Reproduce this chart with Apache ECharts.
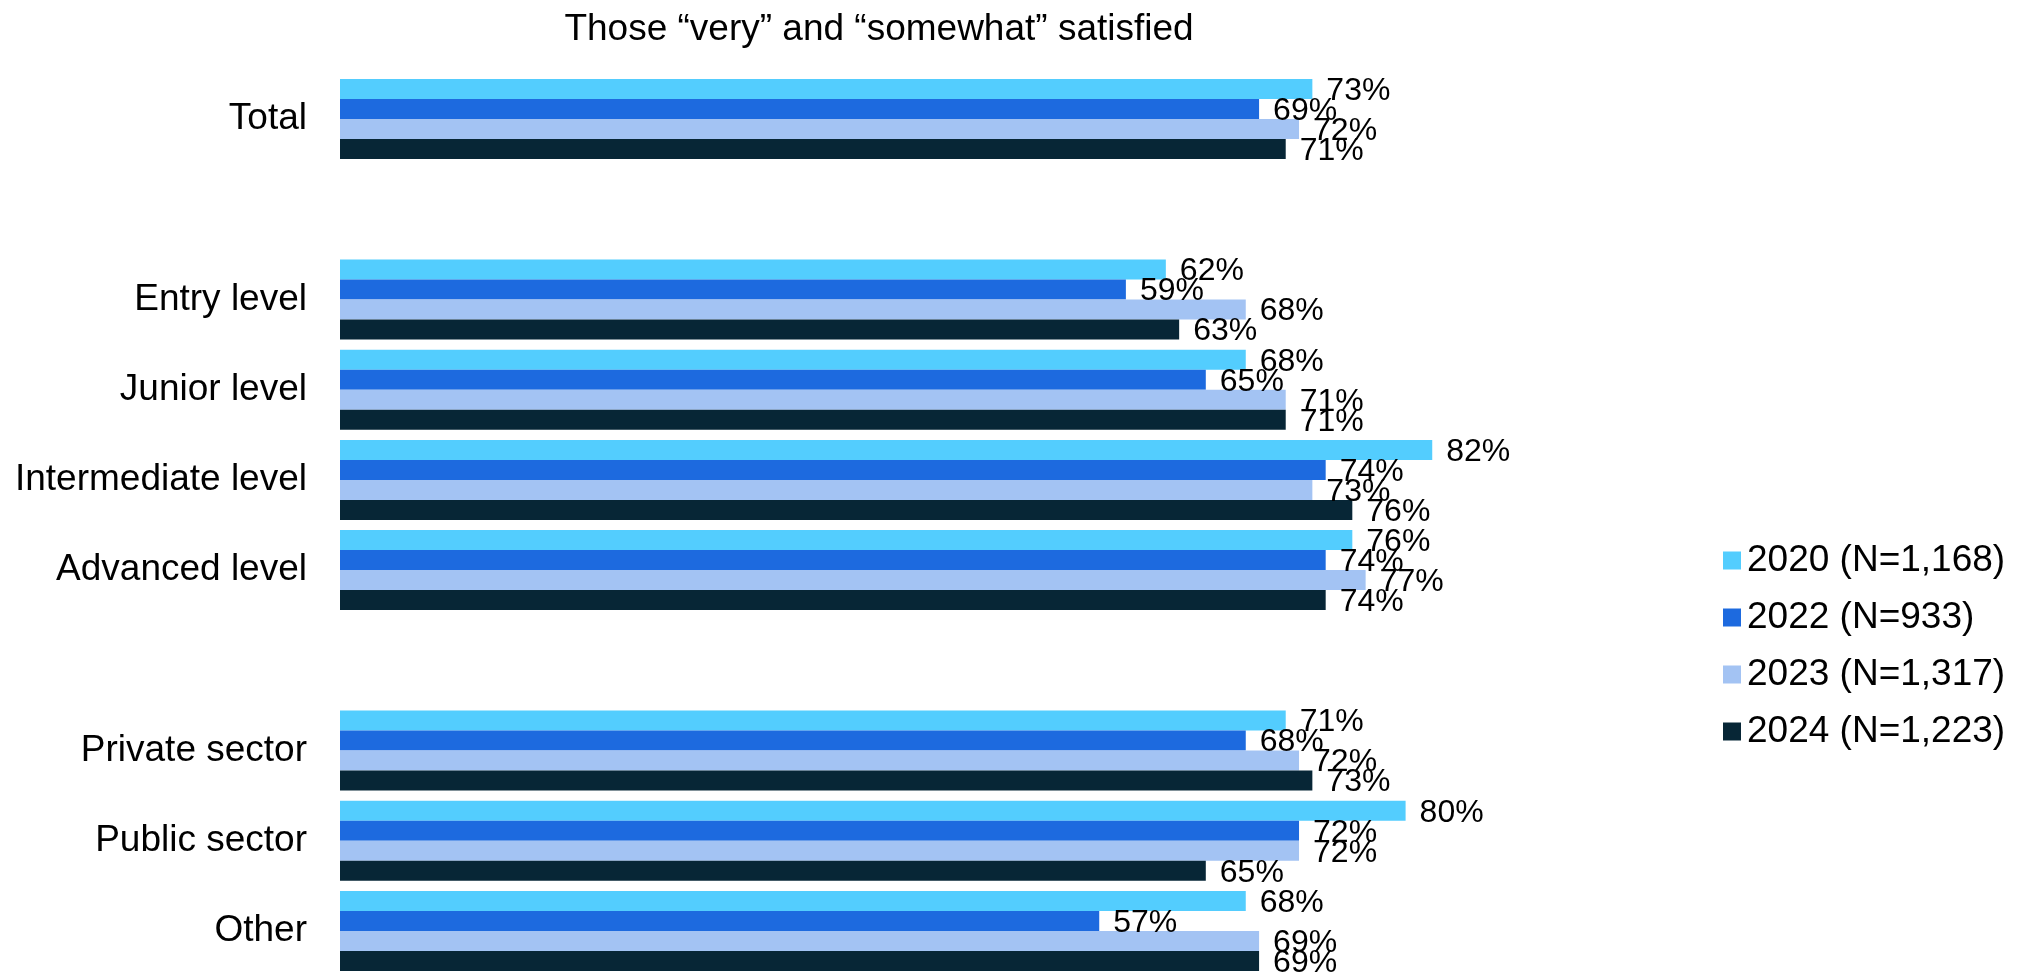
<!DOCTYPE html>
<html><head><meta charset="utf-8">
<script src="https://cdn.jsdelivr.net/npm/echarts@6/dist/echarts.min.js"></script>
<style>html,body{margin:0;padding:0;background:#fff}#c{width:2029px;height:976px}</style>
</head><body><div id="c"></div>
<script>
const categories = ['Total', ' ', 'Entry level', 'Junior level', 'Intermediate level', 'Advanced level', '  ', 'Private sector', 'Public sector', 'Other'];
const seriesNames = ['2020 (N=1,168)', '2022 (N=933)', '2023 (N=1,317)', '2024 (N=1,223)'];
const v2020 = [73, '-', 62, 68, 82, 76, '-', 71, 80, 68];
const v2022 = [69, '-', 59, 65, 74, 74, '-', 68, 72, 57];
const v2023 = [72, '-', 68, 71, 73, 77, '-', 72, 72, 69];
const v2024 = [71, '-', 63, 71, 76, 74, '-', 73, 65, 69];
const colors = ['#53CDFE', '#1D6ADF', '#A3C3F3', '#072636'];
const values = [v2020, v2022, v2023, v2024];
const font = "'Liberation Sans', Arial, sans-serif";

const chart = echarts.init(document.getElementById('c'));
chart.setOption({
  animation: false,
  title: { text: 'Those “very” and “somewhat” satisfied', left: 874, textAlign: 'center', top: 6,
    textStyle: { fontFamily: font, fontSize: 37, fontWeight: 'normal', color: '#000' } },
  legend: { orient: 'vertical', left: 1718, top: 537, itemGap: 20, itemWidth: 18, itemHeight: 18,
    icon: 'rect', textStyle: { fontFamily: font, fontSize: 37, color: '#000', padding: [0,0,0,1] },
    data: seriesNames },
  grid: { left: 340, width: 1332, top: 74, height: 905 },
  xAxis: { type: 'value', min: 0, max: 100, show: false },
  yAxis: { type: 'category', data: categories, inverse: true,
    axisLine: { show: false }, axisTick: { show: false },
    axisLabel: { fontFamily: font, fontSize: 37, color: '#000', margin: 33 } },
  series: seriesNames.map((n, i) => ({
    name: n, type: 'bar', data: values[i], barWidth: 20, barGap: '0%',
    itemStyle: { color: colors[i] },
    label: { show: true, position: 'right', distance: 14, offset: [0, 2], formatter: '{c}%',
      fontFamily: font, fontSize: 32, color: '#000' }
  }))
});
</script></body></html>
